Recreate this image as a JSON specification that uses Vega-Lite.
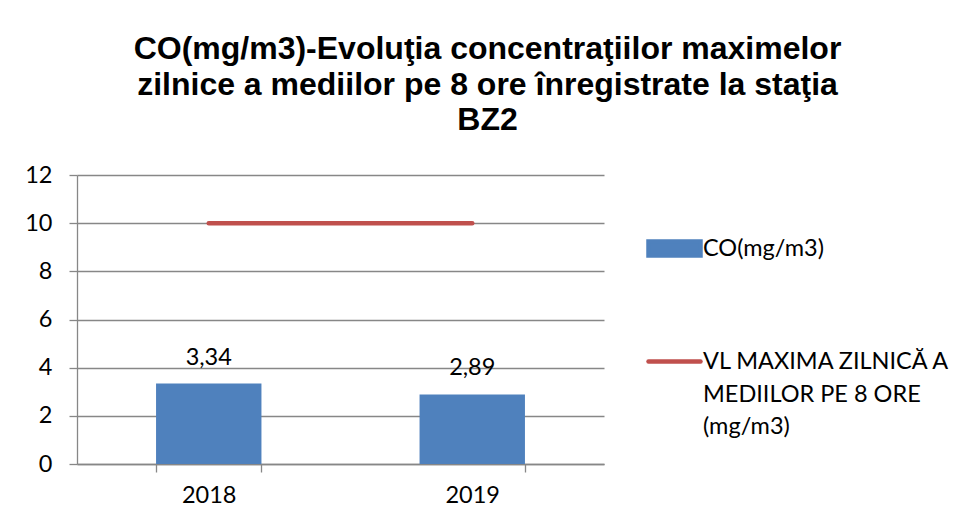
{
  "$schema": "https://vega.github.io/schema/vega-lite/v6.json",
  "width": 527,
  "height": 289,
  "autosize": {"type": "none"},
  "padding": {"left": 77, "top": 175, "right": 355, "bottom": 59},
  "background": "white",
  "title": {
    "text": ["CO(mg/m3)-Evoluţia concentraţiilor maximelor", "zilnice a mediilor pe 8 ore înregistrate la staţia", "BZ2"],
    "font": "Liberation Sans",
    "fontSize": 32,
    "fontWeight": "bold",
    "color": "black",
    "lineHeight": 35.5,
    "anchor": "middle",
    "baseline": "alphabetic",
    "dx": 147,
    "offset": 1
  },
  "config": {
    "view": {"stroke": null},
    "locale": {"number": {"decimal": ",", "thousands": ".", "grouping": [3], "currency": ["", ""]}},
    "axis": {
      "labelFont": "Lato",
      "labelFontSize": 23.5,
      "labelColor": "black",
      "domainColor": "#878787",
      "tickColor": "#878787",
      "gridColor": "#878787",
      "domainWidth": 1.3,
      "tickWidth": 1.3,
      "gridWidth": 1.3,
      "tickSize": 8,
      "title": null
    }
  },
  "data": {
    "values": [
      {"year": "2018", "CO": 3.34, "VL": 10},
      {"year": "2019", "CO": 2.89, "VL": 10}
    ]
  },
  "encoding": {
    "x": {
      "field": "year",
      "type": "ordinal",
      "scale": {"paddingInner": 0.6, "paddingOuter": 0.3},
      "axis": {"labelAngle": 0, "tickBand": "extent", "grid": false, "labelPadding": 11}
    }
  },
  "layer": [
    {
      "mark": {"type": "bar", "color": "#4F81BD"},
      "encoding": {
        "y": {
          "field": "CO",
          "type": "quantitative",
          "scale": {"domain": [0, 12], "nice": false},
          "axis": {"values": [0, 2, 4, 6, 8, 10, 12], "grid": true, "labelPadding": 17}
        },
        "color": {
          "datum": "CO(mg/m3)",
          "type": "nominal",
          "scale": {"domain": ["CO(mg/m3)", "VL MAXIMA ZILNICĂ A MEDIILOR PE 8 ORE (mg/m3)"], "range": ["#4F81BD", "#C0504D"]},
          "legend": {
            "title": null,
            "orient": "none",
            "legendX": 569,
            "legendY": 45,
            "symbolSize": 2704,
            "symbolStrokeWidth": 4.5,
            "labelFont": "Lato",
            "labelFontSize": 23.5,
            "labelColor": "black",
            "labelLimit": 0,
            "labelOffset": 0,
            "labelBaseline": "alphabetic",
            "rowPadding": 68,
            "labelExpr": "datum.label == 'CO(mg/m3)' ? datum.label : ['VL MAXIMA ZILNICĂ A', 'MEDIILOR PE 8 ORE', '(mg/m3)']",
            "encode": {
              "symbols": {
                "update": {
                  "shape": {"signal": "datum.value == 'CO(mg/m3)' ? 'M-1,-0.27H1V0.27H-1Z' : 'stroke'"},
                  "strokeCap": {"value": "round"},
                  "fill": {"signal": "datum.value == 'CO(mg/m3)' ? '#4F81BD' : 'transparent'"},
                  "stroke": {"signal": "datum.value == 'CO(mg/m3)' ? 'transparent' : '#C0504D'"},
                  "strokeWidth": {"value": 4.5},
                  "opacity": {"value": 1}
                }
              },
              "labels": {
                "update": {"lineHeight": {"value": 32.5}, "dy": {"value": 7.5}}
              }
            }
          }
        }
      }
    },
    {
      "mark": {"type": "line", "strokeWidth": 4.5, "strokeCap": "round"},
      "encoding": {
        "y": {"field": "VL", "type": "quantitative"},
        "color": {"datum": "VL MAXIMA ZILNICĂ A MEDIILOR PE 8 ORE (mg/m3)", "type": "nominal"}
      }
    },
    {
      "mark": {"type": "text", "font": "Lato", "fontSize": 23.5, "color": "black", "baseline": "alphabetic", "dy": -19},
      "encoding": {
        "y": {"field": "CO", "type": "quantitative"},
        "text": {"field": "CO", "type": "quantitative", "format": ".2f"}
      }
    }
  ]
}
